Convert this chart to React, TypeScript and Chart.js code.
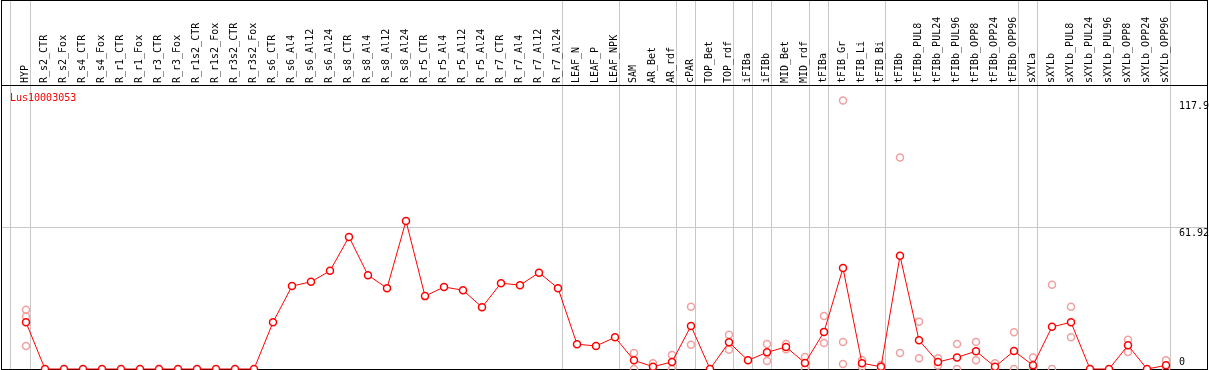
import React, { useEffect, useRef } from "react";
import { Chart, registerables } from "chart.js";

Chart.register(...registerables);

const geneId = "Lus10003053";

const categories = [
  "HYP", "R_s2_CTR", "R_s2_Fox", "R_s4_CTR", "R_s4_Fox", "R_r1_CTR", "R_r1_Fox",
  "R_r3_CTR", "R_r3_Fox", "R_r1s2_CTR", "R_r1s2_Fox", "R_r3s2_CTR", "R_r3s2_Fox",
  "R_s6_CTR", "R_s6_Al4", "R_s6_Al12", "R_s6_Al24", "R_s8_CTR", "R_s8_Al4",
  "R_s8_Al12", "R_s8_Al24", "R_r5_CTR", "R_r5_Al4", "R_r5_Al12", "R_r5_Al24",
  "R_r7_CTR", "R_r7_Al4", "R_r7_Al12", "R_r7_Al24", "LEAF_N", "LEAF_P", "LEAF_NPK",
  "SAM", "AR_Bet", "AR_rdf", "cPAR", "TOP_Bet", "TOP_rdf", "iFIBa", "iFIBb",
  "MID_Bet", "MID_rdf", "tFIBa", "tFIB_Gr", "tFIB_Li", "tFIB_Bi", "tFIBb",
  "tFIBb_PUL8", "tFIBb_PUL24", "tFIBb_PUL96", "tFIBb_OPP8", "tFIBb_OPP24", "tFIBb_OPP96",
  "sXYLa", "sXYLb", "sXYLb_PUL8", "sXYLb_PUL24", "sXYLb_PUL96", "sXYLb_OPP8",
  "sXYLb_OPP24", "sXYLb_OPP96",
];

const meanValues = [
  20.5,
  0, 0, 0, 0, 0, 0, 0, 0, 0, 0, 0, 0,
  20.5, 36.4, 38.3, 43.1,
  58.0, 41.2, 35.5, 65.0,
  32.0, 36.0, 34.6, 27.1,
  37.7, 36.8, 42.3, 35.5,
  10.9, 10.1, 13.9,
  3.8, 1.0, 3.1, 18.9, 0, 11.7, 3.8, 7.3, 9.7, 2.6, 16.3, 44.3, 2.5, 1.0, 49.7,
  12.6, 3.1, 5.1, 7.8, 1.0, 7.9,
  1.6, 18.5, 20.5, 0, 0, 10.4, 0, 1.6,
];

// replicate measurements (light markers)
const repCategories = [
  "HYP", "SAM", "AR_Bet", "AR_rdf", "cPAR", "TOP_rdf", "iFIBb", "MID_Bet", "MID_rdf",
  "tFIBa", "tFIB_Gr", "tFIB_Li", "tFIB_Bi", "tFIBb", "tFIBb_PUL8", "tFIBb_PUL24",
  "tFIBb_PUL96", "tFIBb_OPP8", "tFIBb_OPP24", "tFIBb_OPP96", "sXYLa", "sXYLb",
  "sXYLb_PUL8", "sXYLb_OPP8", "sXYLb_OPP96",
];
const repA = [
  26.0, 7.0, 2.5, 6.2, 27.3, 15.0, 11.0, 11.0, 5.3,
  23.3, 117.9, 3.8, 1.8, 92.9, 20.8, 4.7,
  11.0, 11.9, 2.5, 16.1, 5.1, 37.0,
  27.3, 12.8, 3.8,
];
const repB = [
  10.1, 0, null, 0, 10.6, 8.5, 3.5, 8.7, 0,
  11.4, 11.9, 1.0, 0, 7.0, 4.7, 1.5,
  0, 3.8, 0, 0, 0, 0,
  13.9, 7.5, 0,
];
const repC = [
  23.0, null, null, null, null, null, null, null, null,
  null, 2.2, null, null, null, null, null,
  null, null, null, null, null, null,
  null, null, null,
];

const yTickValues = [117.9, 61.92, 0];
const yTickLabels = ["117.9", "61.92", "0"];
const gridValues = [61.92];

// category indices after which a group separator is drawn
const separatorAfter = [-1.05, 0, 28, 31, 34, 35, 37, 38, 39, 41, 42, 45, 52, 53, 60];

const FONT = "10px 'DejaVu Sans Mono', monospace";

const decorPlugin = {
  id: "decor",
  beforeDatasetsDraw(chart: any) {
    const { ctx, chartArea } = chart;
    const x = chart.scales.x;
    const y = chart.scales.y;
    const H = chart.height;
    ctx.save();
    // separators
    ctx.fillStyle = "#c8c8c8";
    for (const k of separatorAfter) {
      const px = Math.floor(x.getPixelForValue(k + 0.24));
      ctx.fillRect(px, 0, 1, chartArea.bottom);
    }
    for (const g of gridValues) {
      const py = Math.floor(y.getPixelForValue(g));
      ctx.fillRect(chartArea.left, py, chartArea.right - chartArea.left, 1);
    }
    // frame
    ctx.fillStyle = "#000000";
    ctx.fillRect(chartArea.left, 0, 1, H);
    ctx.fillRect(chartArea.right, 0, 1, H);
    ctx.fillRect(chartArea.left, 0, chartArea.right - chartArea.left + 1, 1);
    ctx.fillRect(chartArea.left, chartArea.top, chartArea.right - chartArea.left + 1, 1);
    ctx.fillRect(chartArea.left, chartArea.bottom, chartArea.right - chartArea.left + 1, 1);

    // category labels (rotated)
    ctx.font = FONT;
    ctx.fillStyle = "#000000";
    ctx.textAlign = "left";
    ctx.textBaseline = "alphabetic";
    categories.forEach((c, i) => {
      const px = x.getPixelForValue(i);
      ctx.save();
      ctx.translate(px + 1.5, chartArea.top - 2);
      ctx.rotate(-Math.PI / 2);
      ctx.fillText(c, 0, 0);
      ctx.restore();
    });

    // right value labels
    yTickValues.forEach((v, i) => {
      const py = y.getPixelForValue(v);
      let base = py + 8.5;
      if (base > chartArea.bottom - 3) base = chartArea.bottom - 4;
      ctx.fillText(yTickLabels[i], chartArea.right - 28, base);
    });

    // gene id
    ctx.fillStyle = "#ff0000";
    ctx.fillText(geneId, chartArea.left + 9, chartArea.top + 15.5);
    ctx.restore();
  },
};

export default function App() {
  const canvasRef = useRef<HTMLCanvasElement | null>(null);

  useEffect(() => {
    if (!canvasRef.current) return;
    const repStyle = {
      type: "line" as const,
      showLine: false,
      pointRadius: 3.5,
      pointBorderWidth: 1.5,
      pointBorderColor: "#f0a0a0",
      pointBackgroundColor: "rgba(0,0,0,0)",
      clip: false as const,
    };
    const toPts = (vals: (number | null)[]) =>
      repCategories
        .map((c, i) => ({ x: categories.indexOf(c), y: vals[i] }))
        .filter((p) => p.y !== null);

    const chart = new Chart(canvasRef.current, {
      type: "line",
      data: {
        datasets: [
          {
            label: geneId,
            data: meanValues.map((v, i) => ({ x: i, y: v })),
            borderColor: "#ff0000",
            borderWidth: 1,
            tension: 0,
            pointRadius: 3.5,
            pointBorderWidth: 1.5,
            pointBorderColor: "#ff0000",
            pointBackgroundColor: "#ffffff",
            clip: false,
          },
          { label: "rep A", data: toPts(repA), ...repStyle },
          { label: "rep B", data: toPts(repB), ...repStyle },
          { label: "rep C", data: toPts(repC), ...repStyle },
        ],
      } as any,
      options: {
        animation: false,
        responsive: false,
        devicePixelRatio: 1,
        events: [],
        layout: { autoPadding: false, padding: { left: 1, right: 2, top: 85, bottom: 1 } },
        scales: {
          x: { type: "linear", min: -25 / 19, max: 60 + 41 / 19, display: false },
          y: { type: "linear", min: 0, max: 124.7, display: false },
        },
        plugins: {
          legend: { display: false },
          tooltip: { enabled: false },
        },
      } as any,
      plugins: [decorPlugin],
    });
    return () => chart.destroy();
  }, []);

  return (
    <div style={{ position: "absolute", left: 0, top: 0, width: 1209, height: 370, background: "#fff" }}>
      <canvas ref={canvasRef} width={1209} height={370} style={{ display: "block" }} />
    </div>
  );
}
